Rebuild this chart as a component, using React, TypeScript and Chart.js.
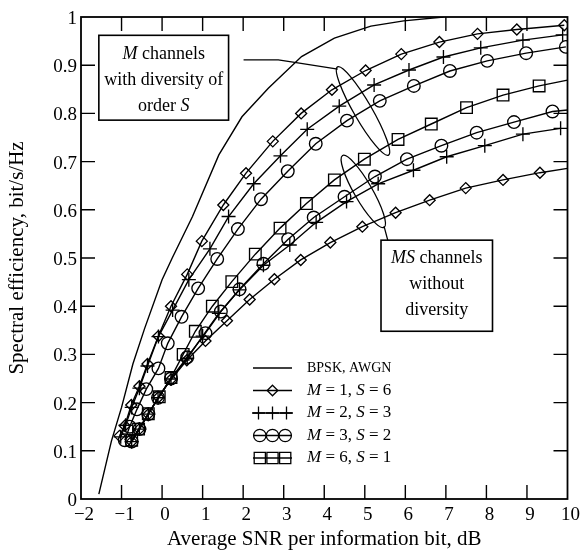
import React, { useEffect, useRef } from 'react';
import { Chart, registerables } from 'chart.js';

Chart.register(...registerables);

const FONT = '"Liberation Serif", "Times New Roman", serif';

// ---- axis ticks ----
const xTickValues = [-2, -1, 0, 1, 2, 3, 4, 5, 6, 7, 8, 9, 10];
const xTickLabels = ['\u22122', '\u22121', '0', '1', '2', '3', '4', '5', '6', '7', '8', '9', '10'];
const yTickValues = [0, 0.1, 0.2, 0.3, 0.4, 0.5, 0.6, 0.7, 0.8, 0.9, 1];
const yTickLabels = ['0', '0.1', '0.2', '0.3', '0.4', '0.5', '0.6', '0.7', '0.8', '0.9', '1'];

const xTitle = 'Average SNR per information bit, dB';
const yTitle = 'Spectral efficiency, bit/s/Hz';

// ---- BPSK, AWGN reference ----
const bpskX = [-1.56, -1.25, -1.0, -0.72, -0.43, 0.0, 0.25, 0.75, 1.4, 1.97, 2.62, 3.44, 4.25, 5.15, 5.96, 6.94];
const bpskY = [0.01, 0.12, 0.19, 0.28, 0.354, 0.455, 0.5, 0.586, 0.714, 0.793, 0.852, 0.918, 0.956, 0.981, 0.992, 1.0];

// ---- M channels with diversity of order S ----
const divM1X = [-1.05, -0.92, -0.76, -0.56, -0.36, -0.09, 0.22, 0.62, 0.98, 1.51, 2.07, 2.73, 3.43, 4.19, 5.02, 5.9, 6.84, 7.78, 8.75, 9.92];
const divM1Y = [0.131, 0.152, 0.195, 0.234, 0.28, 0.338, 0.4, 0.466, 0.535, 0.61, 0.676, 0.742, 0.8, 0.849, 0.889, 0.923, 0.948, 0.965, 0.974, 0.983];

const divM2X = [-1.02, -0.9, -0.75, -0.56, -0.36, -0.09, 0.26, 0.66, 1.18, 1.64, 2.26, 2.92, 3.58, 4.37, 5.23, 6.09, 6.94, 7.86, 8.9, 9.88];
const divM2Y = [0.129, 0.153, 0.19, 0.23, 0.276, 0.337, 0.392, 0.455, 0.519, 0.586, 0.654, 0.712, 0.767, 0.815, 0.859, 0.89, 0.917, 0.936, 0.952, 0.963];

const divM3X = [-0.92, -0.8, -0.62, -0.39, -0.09, 0.14, 0.48, 0.89, 1.36, 1.87, 2.44, 3.1, 3.79, 4.56, 5.37, 6.21, 7.1, 8.02, 8.98, 9.96];
const divM3Y = [0.122, 0.15, 0.186, 0.228, 0.271, 0.323, 0.378, 0.437, 0.498, 0.56, 0.622, 0.68, 0.737, 0.785, 0.826, 0.857, 0.888, 0.909, 0.925, 0.938];

// ---- MS channels without diversity ----
const noDivM1X = [-0.75, -0.56, -0.34, -0.09, 0.22, 0.61, 1.07, 1.6, 2.16, 2.77, 3.42, 4.15, 4.94, 5.76, 6.6, 7.49, 8.41, 9.32, 10.0];
const noDivM1Y = [0.119, 0.145, 0.176, 0.211, 0.248, 0.288, 0.328, 0.37, 0.414, 0.456, 0.496, 0.532, 0.565, 0.594, 0.62, 0.645, 0.662, 0.677, 0.686];

const noDivM2X = [-0.75, -0.56, -0.34, -0.1, 0.22, 0.62, 1.0, 1.4, 1.91, 2.5, 3.15, 3.8, 4.55, 5.33, 6.2, 7.02, 7.96, 8.9, 9.83];
const noDivM2Y = [0.119, 0.145, 0.176, 0.21, 0.249, 0.292, 0.338, 0.385, 0.434, 0.485, 0.527, 0.574, 0.617, 0.654, 0.682, 0.71, 0.733, 0.757, 0.769];

const noDivM3X = [-0.75, -0.56, -0.34, -0.1, 0.22, 0.62, 1.07, 1.45, 1.91, 2.5, 3.11, 3.74, 4.5, 5.25, 6.04, 6.89, 7.76, 8.68, 9.63, 10.0];
const noDivM3Y = [0.119, 0.145, 0.176, 0.21, 0.25, 0.294, 0.344, 0.389, 0.435, 0.488, 0.539, 0.584, 0.627, 0.669, 0.705, 0.733, 0.76, 0.782, 0.804, 0.807];

const noDivM6X = [-0.75, -0.58, -0.34, -0.07, 0.22, 0.52, 0.82, 1.24, 1.72, 2.3, 2.91, 3.56, 4.25, 4.99, 5.82, 6.64, 7.51, 8.41, 9.3, 10.0];
const noDivM6Y = [0.122, 0.145, 0.177, 0.212, 0.252, 0.3, 0.348, 0.4, 0.451, 0.508, 0.562, 0.613, 0.662, 0.705, 0.746, 0.778, 0.812, 0.838, 0.857, 0.869];

// ---- legend ----
const legendBpsk = 'BPSK, AWGN';
const legendM = [1, 2, 3, 6];
const legendS = [6, 3, 2, 1];

// ---- annotation texts (*...* = italic) ----
const noteDiversity = ['*M* channels', 'with diversity of', 'order *S*'];
const noteNoDiversity = ['*MS* channels', 'without', 'diversity'];

type Marker = 'diamond' | 'plus' | 'circle' | 'square' | 'none';

const toPts = (xs: number[], ys: number[]) => xs.map((x, i) => ({ x, y: ys[i] }));

const styleFor: Record<Marker, { pointStyle: any; radius: number }> = {
  diamond: { pointStyle: 'rectRot', radius: 5.5 },
  plus: { pointStyle: 'cross', radius: 7 },
  circle: { pointStyle: 'circle', radius: 6.3 },
  square: { pointStyle: 'rect', radius: 8.2 },
  none: { pointStyle: 'circle', radius: 0 },
};

function makeDataset(xs: number[], ys: number[], marker: Marker, tailWithoutMarker = false) {
  const st = styleFor[marker];
  const n = xs.length;
  return {
    data: toPts(xs, ys),
    borderColor: '#000',
    borderWidth: 1.4,
    tension: 0,
    pointStyle: st.pointStyle,
    pointRadius: (ctx: any) => (tailWithoutMarker && ctx.dataIndex === n - 1 ? 0 : st.radius),
    pointBorderColor: '#000',
    pointBackgroundColor: 'rgba(0,0,0,0)',
    pointBorderWidth: 1.35,
    pointHoverRadius: 0,
  };
}

function drawRich(ctx: CanvasRenderingContext2D, text: string, cx: number, cy: number, size: number, align: 'center' | 'left') {
  const parts = text.split('*');
  const fonts = parts.map((_, i) => `${i % 2 === 1 ? 'italic ' : ''}${size}px ${FONT}`);
  let total = 0;
  const widths = parts.map((p, i) => {
    ctx.font = fonts[i];
    const w = ctx.measureText(p).width;
    total += w;
    return w;
  });
  let x = align === 'center' ? cx - total / 2 : cx;
  ctx.textAlign = 'left';
  ctx.textBaseline = 'middle';
  parts.forEach((p, i) => {
    ctx.font = fonts[i];
    ctx.fillText(p, x, cy);
    x += widths[i];
  });
}

function drawMarker(ctx: CanvasRenderingContext2D, m: Marker, x: number, y: number, r: number) {
  ctx.beginPath();
  if (m === 'diamond') {
    ctx.moveTo(x, y - r);
    ctx.lineTo(x + r, y);
    ctx.lineTo(x, y + r);
    ctx.lineTo(x - r, y);
    ctx.closePath();
  } else if (m === 'plus') {
    ctx.moveTo(x - r, y);
    ctx.lineTo(x + r, y);
    ctx.moveTo(x, y - r);
    ctx.lineTo(x, y + r);
  } else if (m === 'circle') {
    ctx.arc(x, y, r, 0, Math.PI * 2);
  } else if (m === 'square') {
    ctx.rect(x - r, y - r, 2 * r, 2 * r);
  }
  ctx.stroke();
}

const decorPlugin = {
  id: 'decor',
  afterDraw(chart: any) {
    const { ctx, chartArea: a, scales } = chart;
    const xs = scales.x;
    const ys = scales.y;
    const px = (v: number) => xs.getPixelForValue(v);
    const py = (v: number) => ys.getPixelForValue(v);
    ctx.save();
    ctx.strokeStyle = '#000';
    ctx.fillStyle = '#000';

    // frame
    ctx.lineWidth = 1.8;
    ctx.strokeRect(a.left, a.top, a.right - a.left, a.bottom - a.top);

    // inward ticks on all four sides
    ctx.lineWidth = 1.4;
    const tl = 14;
    ctx.beginPath();
    xTickValues.slice(1, -1).forEach((v) => {
      const x = px(v);
      ctx.moveTo(x, a.bottom);
      ctx.lineTo(x, a.bottom - tl);
      ctx.moveTo(x, a.top);
      ctx.lineTo(x, a.top + tl);
    });
    yTickValues.slice(1, -1).forEach((v) => {
      const y = py(v);
      ctx.moveTo(a.left, y);
      ctx.lineTo(a.left + tl, y);
      ctx.moveTo(a.right, y);
      ctx.lineTo(a.right - tl, y);
    });
    ctx.stroke();

    // ellipses grouping the curves
    ctx.lineWidth = 1.3;
    const ang = (60 * Math.PI) / 180;
    ctx.beginPath();
    ctx.ellipse(px(4.956), py(0.805), 51, 9, ang, 0, Math.PI * 2);
    ctx.stroke();
    ctx.beginPath();
    ctx.ellipse(px(4.963), py(0.638), 41.5, 9, ang, 0, Math.PI * 2);
    ctx.stroke();

    // leader lines
    ctx.beginPath();
    ctx.moveTo(px(2.01), py(0.911));
    ctx.lineTo(px(2.866), py(0.911));
    ctx.lineTo(px(3.27), py(0.906));
    ctx.lineTo(px(4.333), py(0.892));
    ctx.stroke();
    ctx.beginPath();
    ctx.moveTo(px(5.474), py(0.566));
    ctx.lineTo(px(5.719), py(0.489));
    ctx.lineTo(px(5.88), py(0.488));
    ctx.stroke();

    // annotation boxes
    ctx.lineWidth = 1.6;
    const box = (x0: number, y0: number, x1: number, y1: number, lines: string[], shift: number) => {
      const l = px(x0), r = px(x1), t = py(y0), b = py(y1);
      ctx.fillStyle = '#fff';
      ctx.fillRect(l, t, r - l, b - t);
      ctx.strokeRect(l, t, r - l, b - t);
      ctx.fillStyle = '#000';
      const cx = (l + r) / 2;
      const lh = 26;
      const cy = (t + b) / 2 + shift;
      lines.forEach((s, i) => drawRich(ctx, s, cx, cy + (i - 1) * lh, 18, 'center'));
    };
    box(-1.56, 0.962, 1.64, 0.786, noteDiversity, 3);
    box(5.4, 0.537, 8.15, 0.348, noteNoDiversity, -1);

    // legend
    const lx0 = a.left + 172;
    const lx1 = a.left + 211;
    const tx = a.left + 226;
    const row0 = a.top + 351;
    const dy = 22.5;
    ctx.lineWidth = 1.3;
    ctx.beginPath();
    ctx.moveTo(lx0, row0);
    ctx.lineTo(lx1, row0);
    ctx.stroke();
    ctx.fillStyle = '#000';
    ctx.font = `14px ${FONT}`;
    ctx.textAlign = 'left';
    ctx.textBaseline = 'middle';
    ctx.fillText(legendBpsk, tx, row0);
    const markers: Marker[] = ['diamond', 'plus', 'circle', 'square'];
    markers.forEach((m, i) => {
      const y = row0 + dy * (i + 1);
      ctx.beginPath();
      ctx.moveTo(lx0, y);
      ctx.lineTo(lx1, y);
      ctx.stroke();
      const mid = (lx0 + lx1) / 2;
      if (m === 'diamond') {
        drawMarker(ctx, m, mid, y, 5.3);
      } else if (m === 'plus') {
        [-14, 0, 14].forEach((o) => drawMarker(ctx, m, mid + o, y, 6.5));
      } else if (m === 'circle') {
        [-12.7, 0, 12.7].forEach((o) => drawMarker(ctx, m, mid + o, y, 6.2));
      } else {
        [-12.7, 0, 12.7].forEach((o) => drawMarker(ctx, m, mid + o, y, 5.6));
      }
      drawRich(ctx, `*M* = ${legendM[i]}, *S* = ${legendS[i]}`, tx, y, 17, 'left');
    });
    ctx.restore();
  },
};

export default function App() {
  const ref = useRef<HTMLCanvasElement | null>(null);
  useEffect(() => {
    if (!ref.current) return;
    const chart = new Chart(ref.current, {
      type: 'line',
      data: {
        datasets: [
          makeDataset(bpskX, bpskY, 'none'),
          makeDataset(divM1X, divM1Y, 'diamond'),
          makeDataset(divM2X, divM2Y, 'plus'),
          makeDataset(divM3X, divM3Y, 'circle'),
          makeDataset(noDivM6X, noDivM6Y, 'square', true),
          makeDataset(noDivM3X, noDivM3Y, 'circle', true),
          makeDataset(noDivM2X, noDivM2Y, 'plus'),
          makeDataset(noDivM1X, noDivM1Y, 'diamond', true),
        ] as any,
      },
      options: {
        animation: false,
        responsive: false,
        maintainAspectRatio: false,
        events: [],
        layout: { padding: { top: 17, right: 10, left: 0, bottom: 0 } },
        plugins: { legend: { display: false }, tooltip: { enabled: false } },
        scales: {
          x: {
            type: 'linear',
            min: -2,
            max: 10,
            afterBuildTicks: (s: any) => {
              s.ticks = xTickValues.map((v) => ({ value: v }));
            },
            afterFit: (s: any) => {
              s.height = 53;
            },
            ticks: {
              callback: (v: any) => xTickLabels[xTickValues.indexOf(Math.round(Number(v)))],
              font: { family: FONT, size: 19 },
              color: '#000',
              padding: 5,
              labelOffset: 3,
              maxRotation: 0,
              autoSkip: false,
            },
            grid: { display: false, drawTicks: false },
            border: { display: false },
            title: {
              display: true,
              text: xTitle,
              font: { family: FONT, size: 21 },
              color: '#000',
              padding: { top: 0, bottom: 0 },
            },
          },
          y: {
            type: 'linear',
            min: 0,
            max: 1,
            afterBuildTicks: (s: any) => {
              s.ticks = yTickValues.map((v) => ({ value: v }));
            },
            afterFit: (s: any) => {
              s.width = 81;
            },
            ticks: {
              callback: (v: any) => yTickLabels[Math.round(Number(v) * 10)],
              font: { family: FONT, size: 19 },
              color: '#000',
              padding: 4,
              labelOffset: 2,
              autoSkip: false,
            },
            grid: { display: false, drawTicks: false },
            border: { display: false },
            title: {
              display: true,
              text: yTitle,
              font: { family: FONT, size: 21 },
              color: '#000',
              padding: { top: 5, bottom: 0 },
            },
          },
        },
      } as any,
      plugins: [decorPlugin],
    });
    return () => chart.destroy();
  }, []);
  return (
    <div style={{ position: 'absolute', left: 0, top: 0, width: 582, height: 552, background: '#fff' }}>
      <canvas ref={ref} width={582} height={552} style={{ display: 'block' }} />
    </div>
  );
}
